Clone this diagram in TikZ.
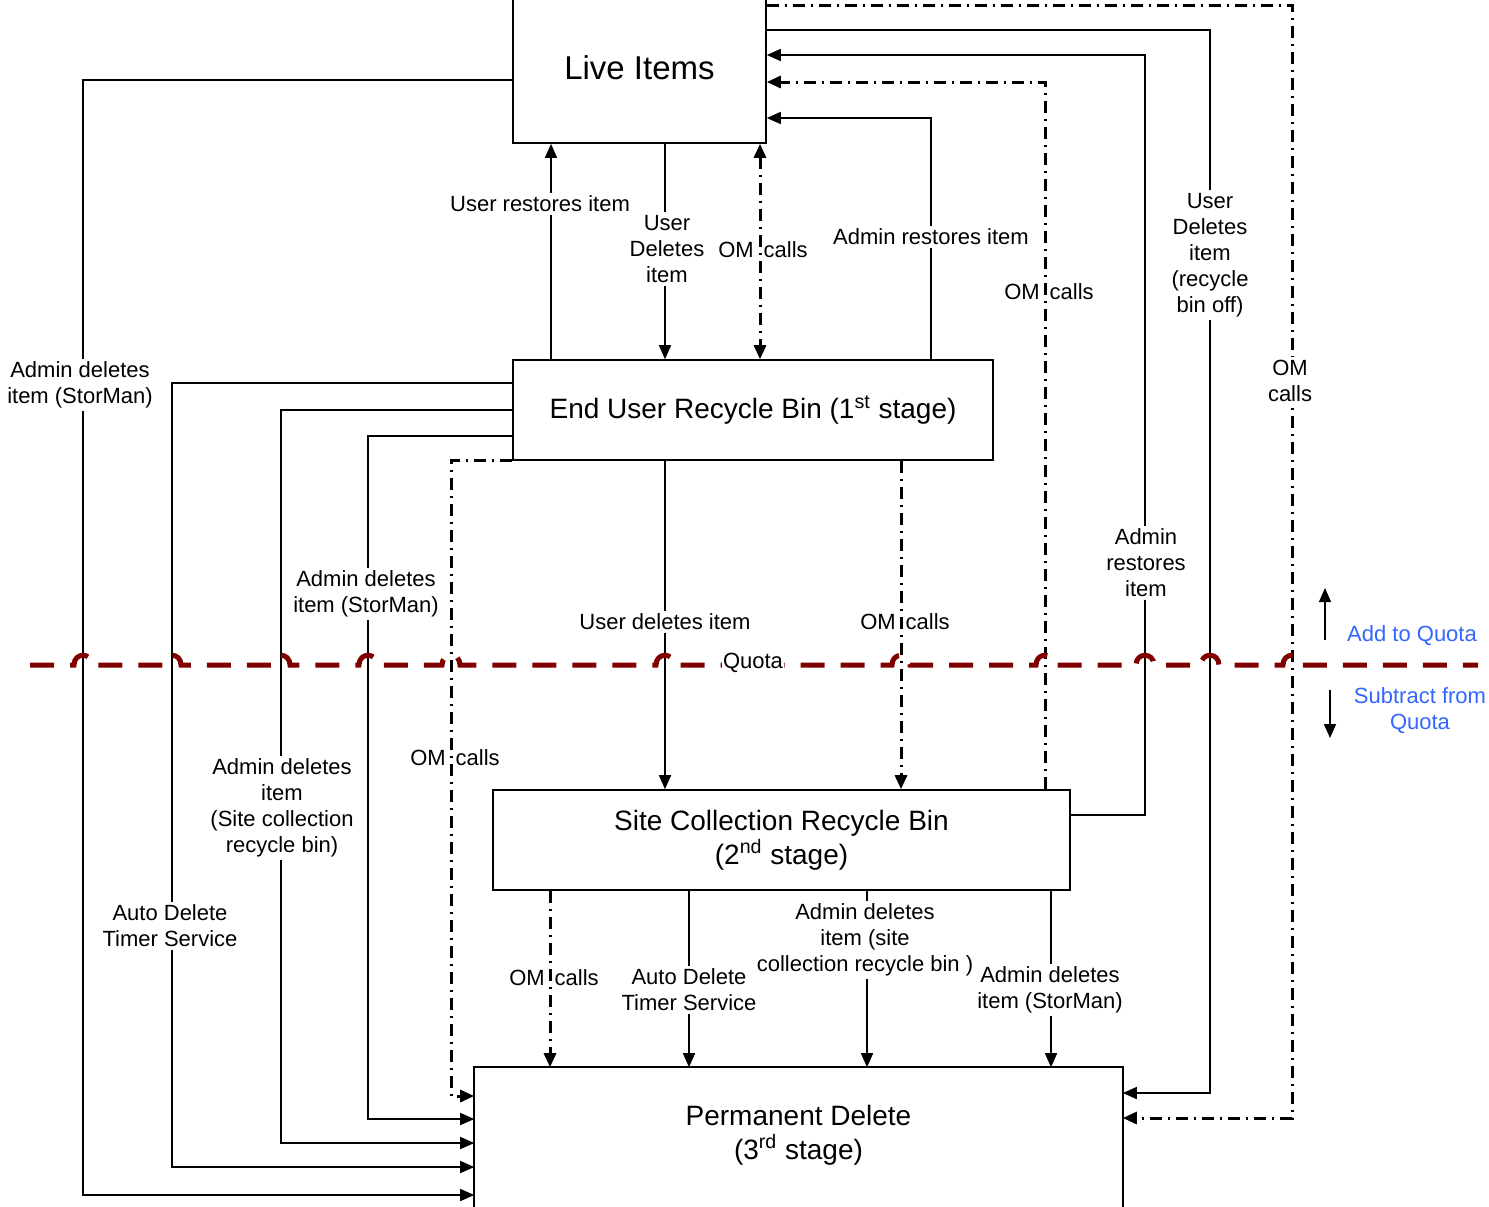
\documentclass[tikz,border=0pt]{standalone}
\usepackage{fontspec}
\setmainfont{Liberation Sans}
\usetikzlibrary{arrows.meta}
\definecolor{quotared}{RGB}{128,0,0}
\definecolor{quotablue}{RGB}{51,102,255}
\tikzset{
  box/.style={line width=0.8pt, fill=white, align=center, inner sep=0pt,
              font=\fontsize{14}{17}\selectfont},
  lbl/.style={fill=white, inner sep=1.5pt, align=center, font=\fontsize{11}{13}\selectfont},
  omlbl/.style={inner sep=0pt, align=center, font=\fontsize{11}{13}\selectfont},
  conn/.style={line width=0.75pt},
  tip/.style={-{Triangle[length=7pt,width=6pt]}},
  arr/.style={conn, tip},
  om/.style={line width=1.5pt, dash pattern=on 6pt off 3pt on 1pt off 3pt},
  omarr/.style={om, tip},
  quota/.style={draw=quotared, line width=2.5pt, dash pattern=on 12pt off 8pt},
}
\begin{document}
\begin{tikzpicture}[x=0.5pt,y=-0.5pt]
\useasboundingbox (0,0) rectangle (1489,1206);

% boxes
\node[box, draw, minimum width=126.5pt, minimum height=75pt,
      font=\fontsize{16.5}{20}\selectfont] (li) at (639.5,68) {Live Items};
\node[box, draw, minimum width=240pt, minimum height=50pt] (eu) at (753,410)
      {End User Recycle Bin (1\textsuperscript{st} stage)};
\node[box, draw, minimum width=288.5pt, minimum height=50pt] (sc) at (781.5,840)
      {Site Collection Recycle Bin\\(2\textsuperscript{nd} stage)};
\node[box, minimum width=323.5pt, minimum height=67pt] (pd) at (798.5,1135)
      {Permanent Delete\\(3\textsuperscript{rd} stage)};
\draw[line width=0.8pt] ([yshift=-30pt]pd.south west) -- (pd.north west)
      -- (pd.north east) -- ([yshift=-30pt]pd.south east);

% Live Items <-> End User
\draw[arr] (eu.north -| 551,0) -- (li.south -| 551,0);
\draw[arr] (li.south -| 665,0) -- (eu.north -| 665,0);
\draw[om, {Triangle[length=7pt,width=6pt]}-{Triangle[length=7pt,width=6pt]}]
      (li.south -| 760,0) -- (eu.north -| 760,0);
\draw[arr] (eu.north -| 931,0) |- (li.east |- 0,118);

% right side loops
\draw[omarr] (sc.north -| 1045,0) |- (li.east |- 0,82);
\draw[arr] (sc.east |- 0,815) -| (1145,55) -- (li.east |- 0,55);
\draw[arr] (li.east |- 0,30) -| (1210,1093) -- (pd.east |- 0,1093);
\draw[omarr] (li.east |- 0,5) -| (1292,1118) -- (pd.east |- 0,1118);

% left side loops
\draw[arr] (li.west |- 0,80) -| (83,1195) -- (pd.west |- 0,1195);
\draw[arr] (eu.west |- 0,383) -| (172,1167) -- (pd.west |- 0,1167);
\draw[arr] (eu.west |- 0,410) -| (281,1143) -- (pd.west |- 0,1143);
\draw[arr] (eu.west |- 0,436) -| (368,1119) -- (pd.west |- 0,1119);
\draw[omarr] (eu.south west) -| (451,1096) -- (pd.west |- 0,1096);

% End User -> Site Collection
\draw[arr] (eu.south -| 665,0) -- (sc.north -| 665,0);
\draw[omarr] (eu.south -| 901,0) -- (sc.north -| 901,0);

% Site Collection -> Permanent Delete
\draw[omarr] (sc.south -| 550,0) -- (pd.north -| 550,0);
\draw[arr] (sc.south -| 689,0) -- (pd.north -| 689,0);
\draw[arr] (sc.south -| 867,0) -- (pd.north -| 867,0);
\draw[arr] (sc.south -| 1051,0) -- (pd.north -| 1051,0);

% quota line with hops
\draw[quota] (30,665)
  \foreach \x in {83,172,281,368,451,665,901,1045,1145,1210,1292} {
    -- (\x-9,665) .. controls (\x-9,652) and (\x+9,652) .. (\x+9,665) }
  -- (1478,665);
\node[fill=white, inner sep=0.5pt, font=\fontsize{11}{13}\selectfont] (ql) at (753,663) {Quota};

% quota legend
\coordinate (addA) at (1325,640);
\coordinate (addB) at (1325,588);
\draw[arr] (addA) -- (addB);
\node[omlbl, text=quotablue] (addq) at (1412,636) {Add to Quota};
\coordinate (subA) at (1330,690);
\coordinate (subB) at (1330,738);
\draw[arr] (subA) -- (subB);
\node[omlbl, text=quotablue] (subq) at (1420,711) {Subtract from\\Quota};

% labels
\node[lbl] (l1) at (540,204) {User restores item};
\node[lbl] (l2) at (667,249) {User\\Deletes\\item};
\node[omlbl] (l3) at (763,250) {OM\hspace{5pt}calls};
\node[lbl] (l4) at (931,237) {Admin restores item};
\node[omlbl] (l5) at (1049,292) {OM\hspace{5pt}calls};
\node[lbl] (l6) at (1210,255) {User\\Deletes\\item\\(recycle\\bin off)};
\node[lbl] (l7) at (1290,381) {OM\\calls};
\node[lbl] (l8) at (80,385) {Admin deletes\\item (StorMan)};
\node[lbl] (l9) at (366,594) {Admin deletes\\item (StorMan)};
\node[lbl] (l10) at (282,808) {Admin deletes\\item\\(Site collection\\recycle bin)};
\node[lbl] (l11) at (170,926) {Auto Delete\\Timer Service};
\node[omlbl] (l12) at (455,758) {OM\hspace{5pt}calls};
\node[lbl] (l13) at (665,622) {User deletes item};
\node[omlbl] (l14) at (905,622) {OM\hspace{5pt}calls};
\node[lbl] (l15) at (1146,563) {Admin\\restores\\item};
\node[omlbl] (l16) at (554,978) {OM\hspace{5pt}calls};
\node[lbl] (l17) at (689,990) {Auto Delete\\Timer Service};
\node[lbl] (l18) at (865,940) {Admin deletes\\item (site\\collection recycle bin )};
\node[lbl] (l19) at (1050,990) {Admin deletes\\item (StorMan)};
\end{tikzpicture}
\end{document}
